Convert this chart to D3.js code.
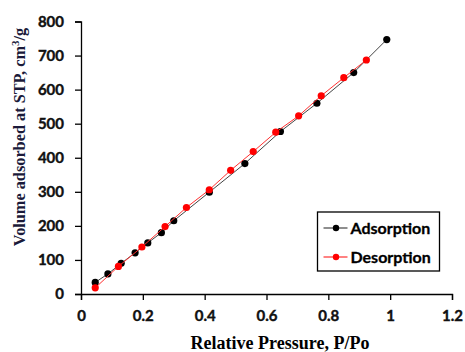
<!DOCTYPE html>
<html>
<head>
<meta charset="utf-8">
<script src="https://cdn.jsdelivr.net/npm/d3@7"></script>
<style>
  body { margin: 0; background: #fff; }
  svg { display: block; }
  .tick text { font-family: Lato, "Open Sans", sans-serif; font-weight: bold; font-size: 15px; fill: #111; stroke: #111; stroke-width: 0.4px; }
  .domain, .tick line { stroke: #000; stroke-width: 1.3px; }
</style>
</head>
<body>
<div id="chart"></div>
<script>
// adsorption branch
var adsP = [0.046, 0.087, 0.13, 0.175, 0.216, 0.26, 0.30, 0.415, 0.53, 0.645, 0.763, 0.882, 0.989];
var adsV = [34, 59, 90, 121, 150, 180, 215, 299, 383, 477, 560, 650, 747];
// desorption branch
var desP = [0.046, 0.121, 0.197, 0.272, 0.341, 0.415, 0.484, 0.557, 0.63, 0.704, 0.777, 0.85, 0.923];
var desV = [18, 81, 138, 198, 254, 306, 363, 418, 475, 523, 582, 635, 687];

var xTicks = [0, 0.2, 0.4, 0.6, 0.8, 1, 1.2];
var yTicks = [0, 100, 200, 300, 400, 500, 600, 700, 800];

var series = [
  { name: "Adsorption", color: "#000", line: "#444", p: adsP, v: adsV },
  { name: "Desorption", color: "#ff0000", line: "#ff3030", p: desP, v: desV }
];

var width = 465, height = 352;
var svg = d3.select("#chart").append("svg")
  .attr("width", width).attr("height", height);

var x = d3.scaleLinear().domain([0, 1.2]).range([81, 452]);
var y = d3.scaleLinear().domain([0, 800]).range([294, 21.5]);

svg.append("g")
  .attr("transform", "translate(0," + y(0) + ")")
  .call(d3.axisBottom(x).tickValues(xTicks).tickSize(6).tickPadding(10)
    .tickFormat(function(d) { return d3.format("")(+d.toFixed(1)); }));

svg.append("g")
  .attr("transform", "translate(" + x(0) + ",0)")
  .call(d3.axisLeft(y).tickValues(yTicks).tickSize(6).tickPadding(11));

var line = d3.line()
  .x(function(d) { return x(d[0]); })
  .y(function(d) { return y(d[1]); });

series.forEach(function(s) {
  var pts = d3.zip(s.p, s.v);
  svg.append("path")
    .datum(pts)
    .attr("fill", "none")
    .attr("stroke", s.line)
    .attr("stroke-width", 1)
    .attr("d", line);
  svg.append("g").selectAll("circle")
    .data(pts)
    .enter().append("circle")
    .attr("cx", function(d) { return x(d[0]); })
    .attr("cy", function(d) { return y(d[1]); })
    .attr("r", 3.6)
    .attr("fill", s.color);
});

// axis titles
svg.append("text")
  .attr("x", 280).attr("y", 349)
  .attr("text-anchor", "middle")
  .style("font-family", "'Liberation Serif', 'Times New Roman', serif")
  .style("font-weight", "bold").style("font-size", "18px")
  .text("Relative Pressure, P/Po");

var yt = svg.append("text")
  .attr("transform", "translate(25,137) rotate(-90)")
  .attr("text-anchor", "middle")
  .style("font-family", "'Liberation Serif', 'Times New Roman', serif")
  .style("font-weight", "bold").style("font-size", "16.3px")
  .style("fill", "#1a1a3a");
yt.append("tspan").text("Volume adsorbed at STP, cm");
yt.append("tspan").attr("dy", -6).style("font-size", "11px").text("3");
yt.append("tspan").attr("dy", 6).text("/g");

// legend
var lg = svg.append("g").attr("transform", "translate(317.5,212)");
lg.append("rect")
  .attr("width", 122).attr("height", 59)
  .attr("fill", "#fff").attr("stroke", "#000").attr("stroke-width", 1.3);
series.forEach(function(s, i) {
  var g = lg.append("g").attr("transform", "translate(0," + (16 + i * 29) + ")");
  g.append("line").attr("x1", 6).attr("x2", 30).attr("stroke", s.line).attr("stroke-width", 1.2);
  g.append("circle").attr("cx", 18.5).attr("r", 3.2).attr("fill", s.color);
  g.append("text")
    .attr("x", 33).attr("dy", "0.35em")
    .style("font-family", "Lato, 'Open Sans', sans-serif")
    .style("font-weight", "bold").style("font-size", "16px")
    .style("stroke", "#000").style("stroke-width", "0.3px")
    .text(s.name);
});
</script>
</body>
</html>
